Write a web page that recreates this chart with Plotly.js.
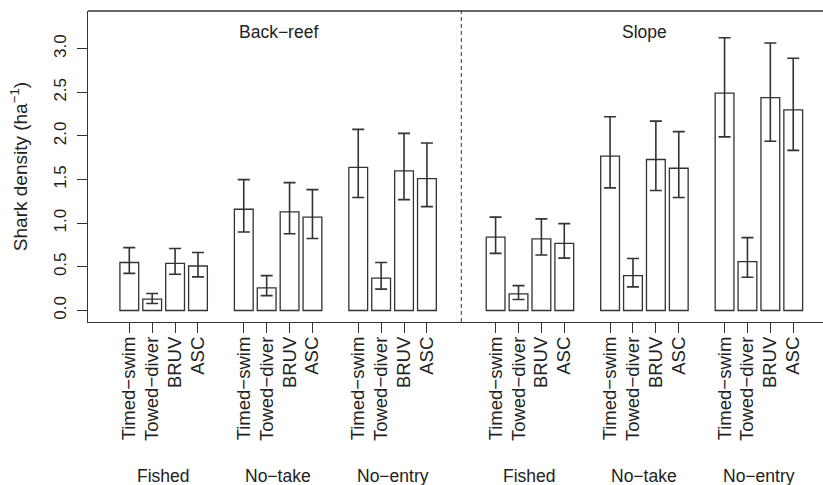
<!DOCTYPE html>
<html>
<head>
<meta charset="utf-8">
<script src="https://cdn.plot.ly/plotly-3.0.1.min.js"></script>
<style>
html,body{margin:0;padding:0;background:#fff;overflow:hidden;}
#chart{width:823px;height:485px;}
</style>
</head>
<body>
<div id="chart"></div>
<script>
// Categories
const habitats = ['Back\u2212reef', 'Slope'];
const zones = ['Fished', 'No\u2212take', 'No\u2212entry'];
const methods = ['Timed\u2212swim', 'Towed\u2212diver', 'BRUV', 'ASC'];

// Shark density (ha^-1), ordered habitat > zone > method
const backreefDensity = [0.55, 0.13, 0.54, 0.51,  1.16, 0.26, 1.13, 1.07,  1.64, 0.37, 1.60, 1.51];
const backreefUpper   = [0.72, 0.195, 0.71, 0.665, 1.50, 0.40, 1.465, 1.385, 2.075, 0.55, 2.03, 1.92];
const backreefLower   = [0.425, 0.08, 0.415, 0.385, 0.90, 0.17, 0.88, 0.825, 1.295, 0.245, 1.27, 1.19];

const slopeDensity = [0.84, 0.19, 0.82, 0.77,  1.77, 0.40, 1.73, 1.63,  2.49, 0.56, 2.44, 2.30];
const slopeUpper   = [1.07, 0.285, 1.05, 0.995, 2.22, 0.595, 2.17, 2.05, 3.125, 0.835, 3.065, 2.89];
const slopeLower   = [0.655, 0.125, 0.635, 0.60, 1.405, 0.27, 1.375, 1.295, 1.99, 0.38, 1.94, 1.835];

const yTicks = [0.0, 0.5, 1.0, 1.5, 2.0, 2.5, 3.0];

const density = backreefDensity.concat(slopeDensity);
const upper = backreefUpper.concat(slopeUpper);
const lower = backreefLower.concat(slopeLower);

// slot positions: one blank slot between zones, two between habitats
const xs = [], labels = [];
habitats.forEach((h, hi) => zones.forEach((z, zi) => methods.forEach((m, mi) => {
  xs.push(hi * 16 + zi * 5 + mi);
  labels.push(m);
})));

const ink = '#333333';
const fam = '"Liberation Sans", Arial, Helvetica, sans-serif';
const font = {family: fam, size: 17.5, color: '#222222'};

const trace = {
  type: 'bar',
  x: xs,
  y: density,
  width: 0.82,
  marker: {color: '#ffffff', line: {color: ink, width: 1.3}},
  error_y: {
    type: 'data', symmetric: false,
    array: density.map((d, i) => upper[i] - d),
    arrayminus: density.map((d, i) => d - lower[i]),
    color: ink, thickness: 1.6, width: 6
  },
  hoverinfo: 'skip'
};

const annotations = [];
habitats.forEach((h, hi) => {
  annotations.push({text: h, x: hi * 16 + 6.5, xref: 'x', y: 0.934, yref: 'paper',
    showarrow: false, font: font, xanchor: 'center', yanchor: 'middle'});
  zones.forEach((z, zi) => {
    annotations.push({text: z, x: hi * 16 + zi * 5 + 1.5, xref: 'x', y: -0.494, yref: 'paper',
      showarrow: false, font: font, xanchor: 'center', yanchor: 'middle'});
  });
});

const layout = {
  width: 823, height: 485,
  margin: {l: 88, r: 0, t: 11, b: 163},
  paper_bgcolor: '#fff', plot_bgcolor: '#fff',
  font: font,
  showlegend: false,
  xaxis: {
    range: [-1.804, 30.30],
    tickvals: xs, ticktext: labels, tickangle: -90,
    ticks: 'outside', ticklen: 10, tickwidth: 1, tickcolor: ink,
    showline: true, linecolor: ink, linewidth: 1.3,
    showgrid: false, zeroline: false, fixedrange: true,
    ticklabelstandoff: -4,
    tickfont: {family: fam, size: 18.5, color: '#222222'}
  },
  yaxis: {
    range: [-0.132, 3.432],
    tickvals: yTicks, tickformat: '.1f', tickangle: -90,
    ticks: 'outside', ticklen: 10, tickwidth: 1, tickcolor: ink,
    showline: true, linecolor: ink, linewidth: 1.3,
    showgrid: false, zeroline: false, fixedrange: true,
    ticklabelstandoff: 4,
    tickfont: {family: fam, size: 17, color: '#222222'},
    title: {text: 'Shark density (ha<sup>\u22121</sup>)', font: {family: fam, size: 19, color: '#222222'}, standoff: 18}
  },
  shapes: [
    {type: 'line', xref: 'paper', yref: 'paper', x0: 0, x1: 1.02, y0: 1, y1: 1,
      line: {color: ink, width: 1.3}},
    {type: 'line', xref: 'x', yref: 'paper', x0: 14.5, x1: 14.5, y0: 0, y1: 1,
      line: {color: ink, width: 1, dash: '4px,3px'}}
  ],
  annotations: annotations
};

Plotly.newPlot('chart', [trace], layout, {displayModeBar: false, staticPlot: true});
</script>
</body>
</html>
